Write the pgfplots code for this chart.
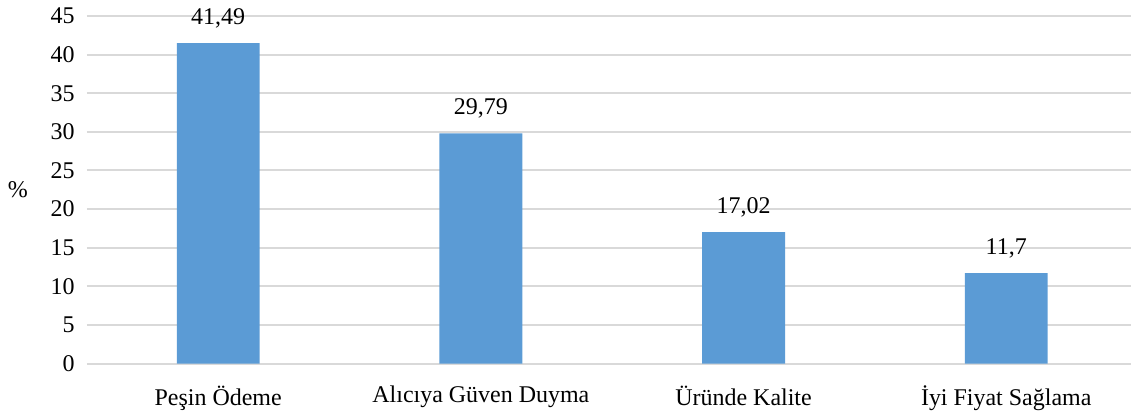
\documentclass[border=0pt]{standalone}
\usepackage{pgfplots}
\pgfplotsset{compat=1.18}
\usepackage{fontspec}
\setmainfont{Liberation Serif}
\definecolor{barblue}{HTML}{5B9BD5}
\definecolor{gridgray}{HTML}{D9D9D9}
\begin{document}
\fontsize{12}{14}\selectfont
\begin{tikzpicture}
\begin{axis}[
  scale only axis,
  width=522.7pt, height=174pt,
  xmin=-0.5, xmax=3.475,
  ymin=0, ymax=45,
  ytick={0,5,...,45},
  xtick=data,
  xticklabels={Peşin Ödeme, Alıcıya Güven Duyma, Üründe Kalite, İyi Fiyat Sağlama},
  axis line style={draw=none},
  major tick length=0pt,
  ymajorgrids,
  grid style={gridgray, line width=1pt},
  /pgf/number format/assume math mode=true,
  /pgf/number format/use comma,
  tick label style={font=\fontsize{12}{14}\selectfont},
  yticklabel style={xshift=-2pt},
  xticklabel style={yshift=-7pt},
  ylabel={\%},
  ylabel style={at={(axis description cs:-0.066,0.5)}, rotate=-90, anchor=center},
  ybar, bar width=41.5pt,
  nodes near coords,
  nodes near coords style={font=\fontsize{12}{14}\selectfont, yshift=3.5pt, /pgf/number format/fixed, /pgf/number format/precision=2},
  clip=false,
]
\addplot[fill=barblue, draw=none] coordinates {(0,41.49) (1,29.79) (2,17.02) (3,11.7)};
\end{axis}
\end{tikzpicture}
\end{document}
